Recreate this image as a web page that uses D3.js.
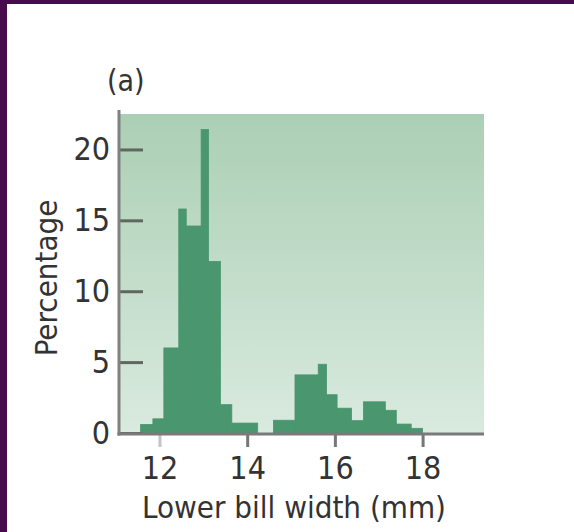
<!DOCTYPE html>
<html>
<head>
    <script src="https://d3js.org/d3.v7.min.js"></script>
    <style>
        body { margin: 0; background: #fff; }
        svg text { font-family: "DejaVu Sans Condensed", "Liberation Sans Narrow", sans-serif; fill: #333; }
    </style>
</head>
<body>
    <div id="chart"></div>
    <script>
        // bin edges (mm), one more than the values
        const binEdges = [11.57, 11.85, 12.10, 12.44, 12.61, 12.95, 13.12, 13.39, 13.65, 14.24,
                          14.60, 15.09, 15.62, 15.81, 16.05, 16.38, 16.65, 17.15, 17.40, 17.74, 18.00];
        const percentages = [0.6, 1.0, 6.0, 15.8, 14.6, 21.4, 12.1, 2.0, 0.7,
                             0, 0.9, 4.1, 4.85, 2.7, 1.75, 0.87, 2.2, 1.6, 0.63, 0.33];
        const xTicks = [12, 14, 16, 18];
        const yTicks = [0, 5, 10, 15, 20];

        const bins = percentages.map((v, i) => ({ x0: binEdges[i], x1: binEdges[i + 1], value: v }));

        const width = 574, height = 532;
        const svg = d3.select('#chart').append('svg')
            .attr('width', width)
            .attr('height', height);

        // purple frame on top and left
        svg.append('rect').attr('x', 0).attr('y', 0).attr('width', width).attr('height', 4).attr('fill', '#470a4b');
        svg.append('rect').attr('x', 0).attr('y', 0).attr('width', 7).attr('height', height).attr('fill', '#470a4b');

        const x = d3.scaleLinear().domain([11.1, 19.4]).range([120, 484]);
        const y = d3.scaleLinear().domain([0, 22.5]).range([433, 114]);

        const grad = svg.append('defs').append('linearGradient')
            .attr('id', 'bg').attr('x1', 0).attr('y1', 0).attr('x2', 0).attr('y2', 1);
        grad.append('stop').attr('offset', '0%').attr('stop-color', '#abcfb4');
        grad.append('stop').attr('offset', '100%').attr('stop-color', '#d9eadf');

        svg.append('rect')
            .attr('x', x.range()[0]).attr('y', y.range()[1])
            .attr('width', x.range()[1] - x.range()[0])
            .attr('height', y.range()[0] - y.range()[1])
            .attr('fill', 'url(#bg)');

        svg.selectAll('.bar')
            .data(bins.filter(d => d.value > 0))
            .enter().append('rect')
            .attr('class', 'bar')
            .attr('x', d => x(d.x0))
            .attr('width', d => x(d.x1) - x(d.x0))
            .attr('y', d => y(d.value))
            .attr('height', d => y(0) - y(d.value))
            .attr('fill', '#4a966e')
            .attr('stroke', '#4a966e')
            .attr('stroke-width', 0.8);

        // y axis: ticks point inward, labels on the left
        const yAxis = svg.append('g')
            .attr('transform', `translate(${x.range()[0] - 1},0)`)
            .call(d3.axisLeft(y).tickValues(yTicks).tickSizeInner(-24).tickSizeOuter(0).tickPadding(9));
        yAxis.select('.domain').remove();
        yAxis.selectAll('line').attr('stroke', '#5f675f').attr('stroke-width', 3);
        yAxis.selectAll('text').style('font-size', '32px').attr('fill', '#333');

        const xAxis = svg.append('g')
            .attr('transform', `translate(0,${y(0) + 1})`)
            .call(d3.axisBottom(x).tickValues(xTicks).tickSizeInner(13).tickSizeOuter(0).tickPadding(9));
        xAxis.select('.domain').remove();
        xAxis.selectAll('line').attr('stroke', (d, i) => i === 0 ? '#c4c4c4' : '#777').attr('stroke-width', 3);
        xAxis.selectAll('text').style('font-size', '32px').attr('fill', '#333');

        // axis lines
        svg.append('line')
            .attr('x1', x.range()[0] - 1).attr('x2', x.range()[0] - 1)
            .attr('y1', 110).attr('y2', y(0) + 2.5)
            .attr('stroke', '#808080').attr('stroke-width', 3);
        svg.append('line')
            .attr('x1', x.range()[0] - 2.5).attr('x2', x.range()[1])
            .attr('y1', y(0) + 1).attr('y2', y(0) + 1)
            .attr('stroke', '#7a7a7a').attr('stroke-width', 3);

        svg.append('text')
            .attr('x', 294).attr('y', 518)
            .attr('text-anchor', 'middle')
            .style('font-size', '31px')
            .text('Lower bill width (mm)');

        svg.append('text')
            .attr('transform', 'translate(57,278) rotate(-90)')
            .attr('text-anchor', 'middle')
            .style('font-size', '31px')
            .text('Percentage');

        svg.append('text')
            .attr('x', 107).attr('y', 91)
            .style('font-size', '30px')
            .text('(a)');
    </script>
</body>
</html>
